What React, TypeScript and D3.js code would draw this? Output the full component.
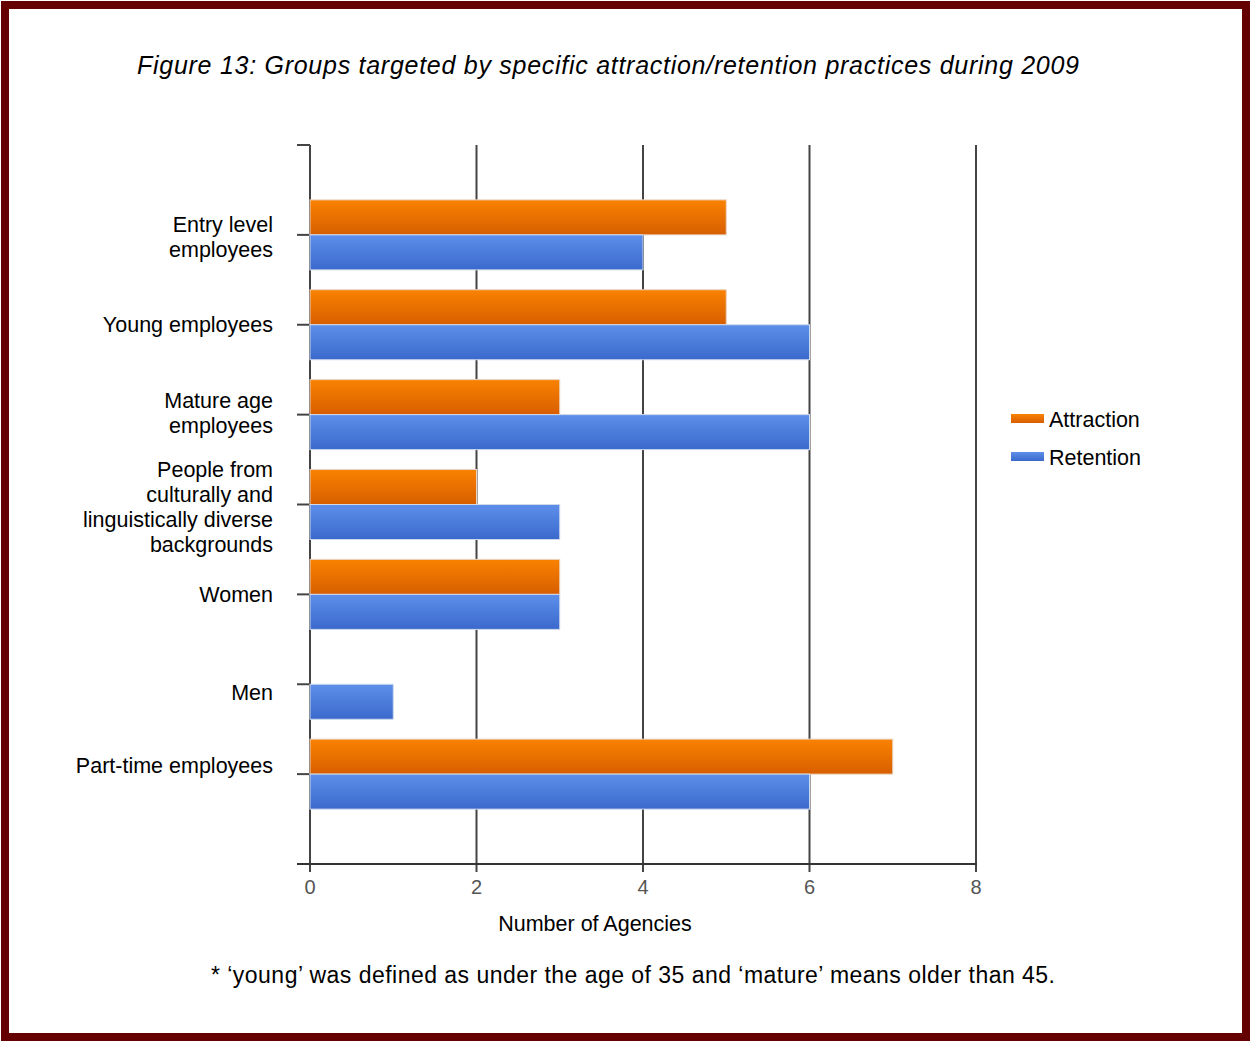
import React, { useRef, useEffect } from 'react';
import * as d3 from 'd3';

const categories = [
  ['Entry level', 'employees'],
  ['Young employees'],
  ['Mature age', 'employees'],
  ['People from', 'culturally and', 'linguistically diverse', 'backgrounds'],
  ['Women'],
  ['Men'],
  ['Part-time employees'],
];
const attraction = [5, 5, 3, 2, 3, 0, 7];
const retention = [4, 6, 6, 3, 3, 1, 6];
const xTicks = [0, 2, 4, 6, 8];
const seriesNames = ['Attraction', 'Retention'];

const W = 1251;
const H = 1042;
const font = 'Arial, "Liberation Sans", sans-serif';

const App = () => {
  const ref = useRef<SVGSVGElement>(null);

  useEffect(() => {
    const svg = d3.select(ref.current);
    svg.selectAll('*').remove();
    svg.attr('width', W).attr('height', H);

    const defs = svg.append('defs');
    const grad = (id: string, top: string, bottom: string) => {
      const g = defs.append('linearGradient').attr('id', id).attr('x1', 0).attr('y1', 0).attr('x2', 0).attr('y2', 1);
      g.append('stop').attr('offset', '0%').attr('stop-color', top);
      g.append('stop').attr('offset', '100%').attr('stop-color', bottom);
    };
    grad('gOrange', '#fa8200', '#d75e00');
    grad('gBlue', '#5d8fea', '#3a69cc');

    svg.append('rect').attr('width', W).attr('height', H).attr('fill', '#fff');
    svg.append('rect')
      .attr('x', 5).attr('y', 5).attr('width', W - 10).attr('height', H - 10)
      .attr('fill', 'none').attr('stroke', '#640000').attr('stroke-width', 8);

    svg.append('text')
      .attr('x', 137).attr('y', 74)
      .attr('textLength', 942).attr('lengthAdjust', 'spacing')
      .attr('font-family', font).attr('font-style', 'italic').attr('font-size', 25)
      .text('Figure 13: Groups targeted by specific attraction/retention practices during 2009');

    const x = d3.scaleLinear().domain([0, 8]).range([310, 976]);
    const y = d3.scalePoint<number>().domain(d3.range(categories.length)).range([145, 864]).padding(1);
    const barH = 35;

    // grid lines
    svg.append('g').selectAll('line').data(xTicks).join('line')
      .attr('x1', (d) => x(d)).attr('x2', (d) => x(d))
      .attr('y1', 145).attr('y2', 872)
      .attr('stroke', '#444').attr('stroke-width', 2);

    // y ticks
    const yTickPos = [145, ...y.domain().map((d) => y(d) as number), 864];
    svg.append('g').selectAll('line').data(yTickPos).join('line')
      .attr('x1', 297).attr('x2', 310)
      .attr('y1', (d) => d).attr('y2', (d) => d)
      .attr('stroke', '#444').attr('stroke-width', 2);
    svg.append('line')
      .attr('x1', 297).attr('x2', 977).attr('y1', 864).attr('y2', 864)
      .attr('stroke', '#333').attr('stroke-width', 2);

    // bars
    const bars = svg.append('g');
    categories.forEach((_, i) => {
      const c = y(i) as number;
      if (attraction[i] > 0) {
        bars.append('rect')
          .attr('x', x(0)).attr('y', c - barH)
          .attr('width', x(attraction[i]) - x(0)).attr('height', barH)
          .attr('fill', 'url(#gOrange)').attr('stroke', '#e9d4c4').attr('stroke-width', 1);
      }
      if (retention[i] > 0) {
        bars.append('rect')
          .attr('x', x(0)).attr('y', c)
          .attr('width', x(retention[i]) - x(0)).attr('height', barH)
          .attr('fill', 'url(#gBlue)').attr('stroke', '#cfd9ec').attr('stroke-width', 1);
      }
    });

    // category labels (the original nudges a few of them off their ticks)
    const nudge: Record<number, number> = { 0: 2, 2: -2, 3: 2, 5: 8, 6: -9 };
    const lineH = 25;
    categories.forEach((lines, i) => {
      const c = (y(i) as number) + (nudge[i] || 0);
      const t = svg.append('text')
        .attr('text-anchor', 'end')
        .attr('font-family', font).attr('font-size', 21.5).attr('fill', '#000');
      lines.forEach((ln, j) => {
        t.append('tspan')
          .attr('x', 273)
          .attr('y', c + (j - (lines.length - 1) / 2) * lineH)
          .attr('dy', '0.35em')
          .text(ln);
      });
    });

    // x tick labels
    svg.append('g').selectAll('text').data(xTicks).join('text')
      .attr('x', (d) => x(d)).attr('y', 894)
      .attr('text-anchor', 'middle')
      .attr('font-family', font).attr('font-size', 20).attr('fill', '#555')
      .text((d) => d);

    svg.append('text')
      .attr('x', 595).attr('y', 931)
      .attr('text-anchor', 'middle')
      .attr('font-family', font).attr('font-size', 21.5)
      .text('Number of Agencies');

    svg.append('text')
      .attr('x', 211).attr('y', 983)
      .attr('textLength', 844).attr('lengthAdjust', 'spacing')
      .attr('font-family', font).attr('font-size', 23)
      .text('* \u2018young\u2019 was defined as under the age of 35 and \u2018mature\u2019 means older than 45.');

    // legend
    const legend = svg.append('g');
    seriesNames.forEach((name, i) => {
      const ly = 419 + i * 38;
      legend.append('rect')
        .attr('x', 1011).attr('y', ly - 5).attr('width', 33).attr('height', 9)
        .attr('fill', i === 0 ? 'url(#gOrange)' : 'url(#gBlue)');
      legend.append('text')
        .attr('x', 1049).attr('y', ly).attr('dy', '0.35em')
        .attr('font-family', font).attr('font-size', 21.5)
        .text(name);
    });
  }, []);

  return <svg ref={ref} style={{ position: 'absolute', left: 0, top: 0, display: 'block' }}></svg>;
};

export default App;
